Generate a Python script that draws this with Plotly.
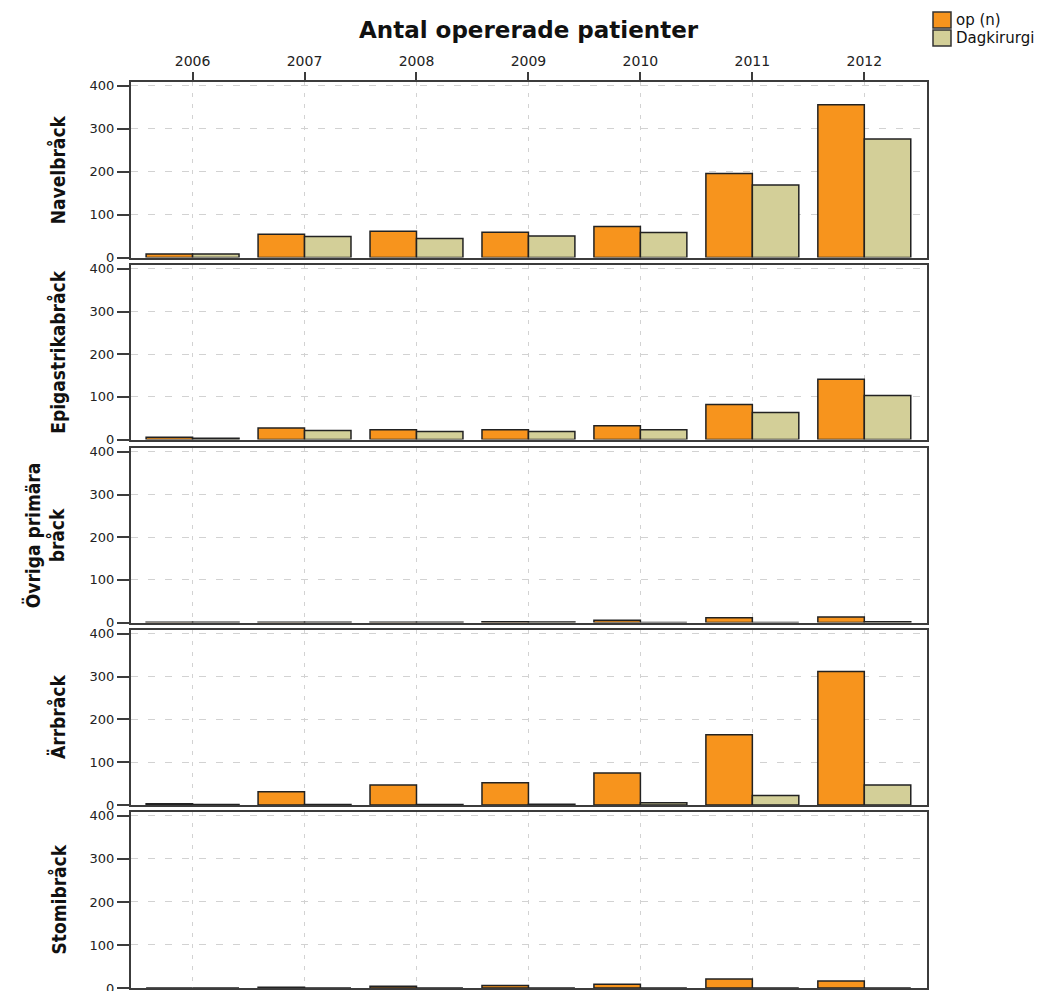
import plotly.graph_objects as go

# ---- data ----
years = ["2006", "2007", "2008", "2009", "2010", "2011", "2012"]
hernia_types = ["Navelbråck", "Epigastrikabråck", "Övriga primära<br>bråck", "Ärrbråck", "Stomibråck"]
series_names = ["op (n)", "Dagkirurgi"]

op_navel = [8, 54, 61, 59, 72, 196, 356]
dag_navel = [8, 49, 44, 50, 58, 169, 276]
op_epi = [5, 27, 23, 23, 32, 82, 141]
dag_epi = [3, 21, 19, 19, 23, 63, 103]
op_ovr = [0.3, 0.3, 0.3, 2, 5, 11, 13]
dag_ovr = [0.3, 0.3, 0.3, 1, 0, 0, 2]
op_arr = [3, 31, 47, 52, 75, 164, 312]
dag_arr = [1, 1, 1, 1.5, 5, 22, 47]
op_stomi = [0, 2, 4, 6, 9, 21, 16]
dag_stomi = [0, 0, 0, 0, 0, 0, 0]

y_ticks = [0, 100, 200, 300, 400]
title_text = "Antal opererade patienter"

op_all = [op_navel, op_epi, op_ovr, op_arr, op_stomi]
dag_all = [dag_navel, dag_epi, dag_ovr, dag_arr, dag_stomi]

# ---- styling / layout ----
OFF = 8                      # default page body margin
W, H = 1047 - OFF, 1000 - OFF  # page extends slightly past the window bottom
ORANGE = "#F7941D"
BEIGE = "#D3CF98"
FRAME = "#3c3c3c"
GRID = "#d2d2d2"


def px(sx):
    return (sx - OFF) / W


def py(sy):
    return 1 - (sy - OFF) / H


x_left, x_right = 131, 927
panels_px = [(82, 257.5), (265, 439.5), (448, 622.5), (630, 805), (812, 988)]

fig = go.Figure()
layout = dict(
    width=W, height=H,
    margin=dict(l=0, r=0, t=0, b=0, autoexpand=False),
    paper_bgcolor="white", plot_bgcolor="white",
    barmode="group", bargap=0.17, bargroupgap=0,
    font=dict(family="DejaVu Sans, Verdana, Arial", color="#222"),
    showlegend=False,
    annotations=[], shapes=[],
)

xdom = [px(x_left), px(x_right)]
for i, (top, bot) in enumerate(panels_px):
    k = "" if i == 0 else str(i + 1)
    xa, ya = "x" + k, "y" + k
    fig.add_trace(go.Bar(x=years, y=op_all[i], name=series_names[0], xaxis=xa, yaxis=ya,
                         marker=dict(color=ORANGE, line=dict(color="#222", width=1.5))))
    fig.add_trace(go.Bar(x=years, y=dag_all[i], name=series_names[1], xaxis=xa, yaxis=ya,
                         marker=dict(color=BEIGE, line=dict(color="#222", width=1.5))))
    ydom = [py(bot), py(top)]
    xaxis = dict(domain=xdom, anchor=ya, type="category", range=[-0.55, 6.56],
                 showline=True, mirror=True, linecolor=FRAME, linewidth=2,
                 showgrid=True, gridcolor=GRID, griddash="4px,7px", gridwidth=1.2,
                 zeroline=False, fixedrange=True, automargin=False)
    if i == 0:
        xaxis.update(side="top", ticks="outside", ticklen=8, tickwidth=2, tickcolor=FRAME,
                     showticklabels=True, tickfont=dict(size=14, color="#222"))
    else:
        xaxis.update(ticks="", showticklabels=False)
    yaxis = dict(domain=ydom, anchor=xa, range=[0, 409], tickvals=y_ticks,
                 showline=True, mirror=True, linecolor=FRAME, linewidth=2,
                 ticks="outside", ticklen=12, tickwidth=2, tickcolor=FRAME,
                 tickfont=dict(size=13, color="#222"),
                 showgrid=True, gridcolor=GRID, griddash="7px,10px", gridwidth=1.2,
                 zeroline=False, fixedrange=True, automargin=False)
    layout["xaxis" + k] = xaxis
    layout["yaxis" + k] = yaxis
    layout["annotations"].append(dict(
        text=hernia_types[i], xref="paper", yref="paper",
        x=px(71), y=py((top + bot) / 2), xanchor="right", yanchor="middle",
        textangle=-90, showarrow=False, align="center",
        font=dict(size=19, family="DejaVu Sans Condensed, Liberation Sans Narrow, Arial Narrow",
                  weight="bold", color="#111"),
    ))

# title
layout["annotations"].append(dict(
    text="<b>" + title_text + "</b>", xref="paper", yref="paper",
    x=px((x_left + x_right) / 2), y=py(30), xanchor="center", yanchor="middle",
    showarrow=False, font=dict(size=23, family="DejaVu Sans, Verdana", color="#111"),
))

# legend drawn manually (box + label)
legend_colors = [ORANGE, BEIGE]
legend_rows = [(12, 28), (30, 46)]
for name, col, (y0, y1) in zip(series_names, legend_colors, legend_rows):
    layout["shapes"].append(dict(
        type="rect", xref="paper", yref="paper",
        x0=px(933), x1=px(951), y0=py(y1), y1=py(y0),
        fillcolor=col, line=dict(color="#333", width=1.5),
    ))
    layout["annotations"].append(dict(
        text=name, xref="paper", yref="paper",
        x=px(954), y=py((y0 + y1) / 2), xanchor="left", yanchor="middle",
        showarrow=False, font=dict(size=15, family="DejaVu Sans, Verdana", color="#111"),
    ))

fig.update_layout(**layout)
fig.write_html("out.html")
